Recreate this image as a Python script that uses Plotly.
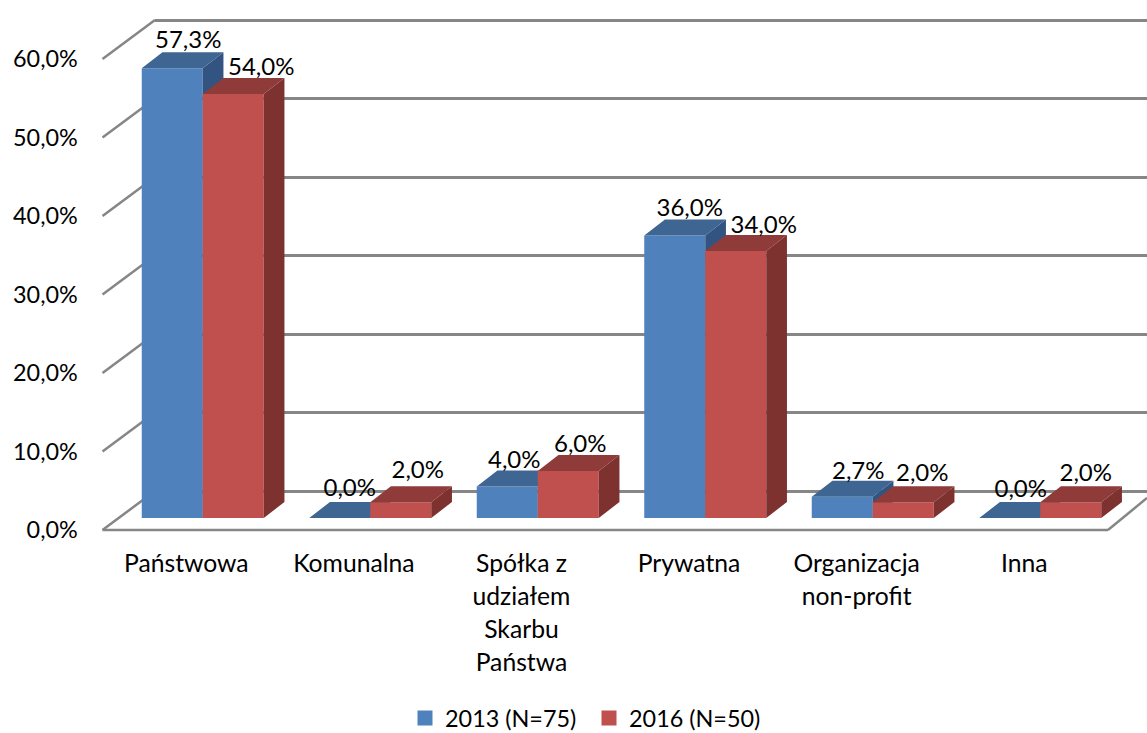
import plotly.graph_objects as go

# ---------- data ----------
categories = ["Państwowa", "Komunalna", "Spółka z<br>udziałem<br>Skarbu<br>Państwa",
              "Prywatna", "Organizacja<br>non-profit", "Inna"]
series_2013 = [57.3, 0.0, 4.0, 36.0, 2.7, 0.0]
series_2016 = [54.0, 2.0, 6.0, 34.0, 2.0, 2.0]
name_2013 = "2013 (N=75)"
name_2016 = "2016 (N=50)"
y_ticks = [0, 10, 20, 30, 40, 50, 60]
y_labels = ["0,0%", "10,0%", "20,0%", "30,0%", "40,0%", "50,0%", "60,0%"]

# ---------- manual label nudges (px) ----------
shift_2013 = [16, 10, 7, 15, 16, 11]
shift_2016 = [28, 17, 12, 28, 19, 15]
rise_2013 = [26, 28, 25, 25, 24, 27]
rise_2016 = [25, 30, 25, 24, 27, 27]

# ---------- geometry (px) ----------
W, H = 1147, 733
SCALE = 7.85           # px per percentage point
FRONT_X0, FRONT_X1, FRONT_Y0 = 102.5, 1108, 530
BACK_X0, BACK_Y0 = 155, 491
BAR_X0, BAR_X1, BAR_Y0 = 119, 1124, 518
UNIT = (BAR_X1 - BAR_X0) / 6  # px per category
BAR_W = 61 / UNIT
DEPTH_X = 20.7 / UNIT
DEPTH_Y = 16 / SCALE
GRID = "#868686"
FONT = "Lato"
SIZE_CAT, SIZE_Y, SIZE_LABEL, SIZE_LEGEND = 24.7, 23.4, 24, 23.4


def px(x):
    return x / W


def py(y):
    return 1 - y / H


def ydomain(y0, top):
    return [py(y0), py(y0 - SCALE * top)]


fig = go.Figure()


def faces(values, offset):
    tx, ty, sx, sy = [], [], [], []
    for i, v in enumerate(values):
        l = i + offset
        r = l + BAR_W
        tx += [l, r, r + DEPTH_X, l + DEPTH_X, l, None]
        ty += [v, v, v + DEPTH_Y, v + DEPTH_Y, v, None]
        sx += [r, r + DEPTH_X, r + DEPTH_X, r, r, None]
        sy += [v, v + DEPTH_Y, DEPTH_Y, 0, v, None]
    return tx, ty, sx, sy


def add_series(values, name, offset, front, top, side, xa, ya):
    idx = list(range(len(values)))
    tx, ty, sx, sy = faces(values, offset)
    fig.add_trace(go.Bar(x=idx, y=values, width=BAR_W, offset=offset, name=name,
                         marker=dict(color=front, line=dict(width=0)),
                         xaxis=xa, yaxis=ya, showlegend=False))
    fig.add_trace(go.Scatter(x=sx, y=sy, mode="lines", fill="toself", fillcolor=side,
                             line=dict(width=0, color=side), hoverinfo="skip",
                             xaxis=xa, yaxis=ya, showlegend=False))
    fig.add_trace(go.Scatter(x=tx, y=ty, mode="lines", fill="toself", fillcolor=top,
                             line=dict(width=0, color=top), hoverinfo="skip",
                             xaxis=xa, yaxis=ya, showlegend=False))


# invisible trace that owns the back-wall gridlines (first subplot = bottom layer)
fig.add_trace(go.Scatter(x=[0], y=[0], mode="none", xaxis="x", yaxis="y",
                         showlegend=False, hoverinfo="skip"))
# front plane: owns the tick labels
fig.add_trace(go.Scatter(x=[0], y=[0], mode="none", xaxis="x2", yaxis="y2",
                         showlegend=False, hoverinfo="skip"))

add_series(series_2013, name_2013, -BAR_W, "#4F81BD", "#3F6592", "#335480", "x3", "y3")
add_series(series_2016, name_2016, 0, "#C0504D", "#8F3B39", "#7D3230", "x4", "y4")


def labels(values, offset, shift, rise, ya_x="x4", ya_y="y4"):
    xs = [i + offset + BAR_W / 2 + s / UNIT for i, s in enumerate(shift)]
    ys = [v + r / SCALE for v, r in zip(values, rise)]
    txt = [f"{v:.1f}".replace(".", ",") + "%" for v in values]
    fig.add_trace(go.Scatter(x=xs, y=ys, text=txt, mode="text", textposition="middle center",
                             textfont=dict(family=FONT, size=SIZE_LABEL, color="#000000"),
                             cliponaxis=False, hoverinfo="skip", showlegend=False,
                             xaxis=ya_x, yaxis=ya_y))


labels(series_2013, -BAR_W, shift_2013, rise_2013)
labels(series_2016, 0, shift_2016, rise_2016)

# legend entries
fig.add_trace(go.Scatter(x=[None], y=[None], mode="markers", name=name_2013,
                         marker=dict(symbol="square", size=15, color="#4F81BD"),
                         xaxis="x4", yaxis="y4"))
fig.add_trace(go.Scatter(x=[None], y=[None], mode="markers", name=name_2016,
                         marker=dict(symbol="square", size=15, color="#C0504D"),
                         xaxis="x4", yaxis="y4"))

# wall diagonals and floor outline
shapes = []
for t in y_ticks:
    shapes.append(dict(type="line", xref="paper", yref="paper", layer="below",
                       x0=px(FRONT_X0), y0=py(FRONT_Y0 - t * SCALE),
                       x1=px(BACK_X0), y1=py(BACK_Y0 - t * SCALE),
                       line=dict(color=GRID, width=2.5)))
shapes.append(dict(type="line", xref="paper", yref="paper", layer="below",
                   x0=px(FRONT_X0), y0=py(FRONT_Y0), x1=px(FRONT_X1), y1=py(FRONT_Y0),
                   line=dict(color=GRID, width=2.5)))
shapes.append(dict(type="line", xref="paper", yref="paper", layer="below",
                   x0=px(FRONT_X1), y0=py(FRONT_Y0), x1=px(W), y1=py(498),
                   line=dict(color=GRID, width=2.5)))

hidden_x = dict(range=[-0.5, 5.5], showgrid=False, zeroline=False, showticklabels=False,
                ticks="", fixedrange=True)
BACK_TOP, FRONT_TOP, BAR_TOP = 62, 62, 65
hidden_y = dict(range=[0, BAR_TOP], showgrid=False, zeroline=False, showticklabels=False,
                ticks="", fixedrange=True)

fig.update_layout(
    width=W, height=H, margin=dict(l=0, r=0, t=0, b=0, autoexpand=False), autosize=False,
    paper_bgcolor="white", plot_bgcolor="rgba(0,0,0,0)",
    barmode="overlay", shapes=shapes,
    font=dict(family=FONT, size=SIZE_Y, color="#000000"),
    xaxis=dict(hidden_x, domain=[px(BACK_X0), 1]),
    yaxis=dict(range=[0, BACK_TOP], domain=ydomain(BACK_Y0, BACK_TOP), tickvals=y_ticks, showgrid=True,
               gridcolor=GRID, gridwidth=2.5, zeroline=True, zerolinecolor=GRID,
               zerolinewidth=2.5, showticklabels=False, ticks="", fixedrange=True),
    xaxis2=dict(range=[-0.5, 5.5], domain=[px(FRONT_X0), px(FRONT_X1)], anchor="y2",
                tickmode="array", tickvals=list(range(6)),
                ticktext=["<br>".join(f'<span style="font-size:{SIZE_CAT}px">{p}</span>' for p in c.split("<br>"))
                          for c in categories],
                tickfont=dict(family=FONT, size=25.5, color="#000000"),
                tickangle=0, showgrid=False, zeroline=False, ticks="outside", ticklen=10,
                tickcolor="rgba(0,0,0,0)", fixedrange=True, automargin=False),
    yaxis2=dict(range=[0, FRONT_TOP], domain=ydomain(FRONT_Y0, FRONT_TOP), anchor="x2",
                tickmode="array", tickvals=y_ticks, ticktext=y_labels,
                tickfont=dict(family=FONT, size=SIZE_Y, color="#000000"),
                showgrid=False, zeroline=False, ticks="outside", ticklen=19,
                tickcolor="rgba(0,0,0,0)", fixedrange=True, automargin=False),
    xaxis3=dict(hidden_x, domain=[px(BAR_X0), px(BAR_X1)], anchor="y3"),
    yaxis3=dict(hidden_y, domain=ydomain(BAR_Y0, BAR_TOP), anchor="x3"),
    xaxis4=dict(hidden_x, domain=[px(BAR_X0), px(BAR_X1)], anchor="y4"),
    yaxis4=dict(hidden_y, domain=ydomain(BAR_Y0, BAR_TOP), anchor="x4"),
    legend=dict(orientation="h", x=px(405), xanchor="left", y=-0.01, yanchor="bottom",
                font=dict(family=FONT, size=SIZE_LEGEND, color="#000000"),
                itemwidth=30, entrywidth=139, entrywidthmode="pixels",
                bgcolor="rgba(0,0,0,0)", itemclick=False, itemdoubleclick=False),
    showlegend=True,
)

fig.write_html("out.html", config={"displayModeBar": False},
               post_script="document.body.style.margin='0';")
